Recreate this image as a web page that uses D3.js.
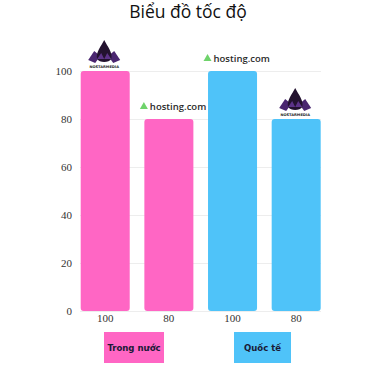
<!DOCTYPE html>
<html>
<head>
<meta charset="utf-8">
<script src="https://cdn.jsdelivr.net/npm/d3@7"></script>
<style>
  body { margin: 0; background: #fff; }
  svg { display: block; }
</style>
</head>
<body>
<svg id="chart" width="375" height="366"></svg>
<script>
// data
var title = "Biểu đồ tốc độ";
var barLabels = ["100", "80", "100", "80"];
var barValues = [100, 80, 100, 80];
var barGroups = ["Trong nước", "Trong nước", "Quốc tế", "Quốc tế"];
var barLogos = ["nostar", "hosting", "hosting", "nostar"];
var groups = ["Trong nước", "Quốc tế"];
var yTicks = [0, 20, 40, 60, 80, 100];

var colors = { "Trong nước": "#ff66c4", "Quốc tế": "#4fc3f9" };
var tickFont = "'Liberation Serif', 'DejaVu Serif', serif";

var svg = d3.select("#chart");

svg.append("text")
  .attr("x", 188).attr("y", 18)
  .attr("text-anchor", "middle")
  .style("font-family", "'Open Sans', sans-serif")
  .style("font-size", "17.5px")
  .attr("fill", "#111")
  .text(title);

var x = d3.scaleBand()
  .domain(d3.range(barValues.length))
  .range([80.7, 320.7])
  .paddingInner(0.23)
  .paddingOuter(0);

var y = d3.scaleLinear()
  .domain([0, 100])
  .range([311, 71]);

// gridlines
svg.append("g")
  .selectAll("line")
  .data(yTicks)
  .enter().append("line")
  .attr("x1", 80).attr("x2", 321)
  .attr("y1", function(d) { return y(d) + 0.5; })
  .attr("y2", function(d) { return y(d) + 0.5; })
  .attr("stroke", "#ededed")
  .attr("stroke-width", 1);

// y axis labels
var yAxis = d3.axisLeft(y).tickValues(yTicks).tickSize(0).tickPadding(0);
var ya = svg.append("g").attr("transform", "translate(72,0)").call(yAxis);
ya.attr("font-family", null);
ya.select(".domain").remove();
ya.selectAll("text")
  .style("font-family", tickFont)
  .style("font-size", "11px")
  .attr("fill", "#333");

// bars
svg.append("g")
  .selectAll("rect")
  .data(barValues)
  .enter().append("rect")
  .attr("x", function(d, i) { return x(i); })
  .attr("y", function(d) { return y(d); })
  .attr("width", x.bandwidth())
  .attr("height", function(d) { return y(0) - y(d); })
  .attr("rx", 3)
  .attr("fill", function(d, i) { return colors[barGroups[i]]; });

// x labels
svg.append("g")
  .selectAll("text")
  .data(barLabels)
  .enter().append("text")
  .attr("x", function(d, i) { return x(i) + x.bandwidth() / 2; })
  .attr("y", 322)
  .attr("text-anchor", "middle")
  .style("font-family", tickFont)
  .style("font-size", "11px")
  .attr("fill", "#333")
  .text(function(d) { return d; });

// logos
function drawNostar(g) {
  g.append("path")
    .attr("d", "M-16,8 L-10,-1 L-4,4 L-9,11 Z")
    .attr("fill", "#4a2670");
  g.append("path")
    .attr("d", "M16,8 L10,-1 L4,4 L9,11 Z")
    .attr("fill", "#4a2670");
  g.append("path")
    .attr("d", "M0,-12 C3,-6 9,1 7,7 C5,11 -5,11 -7,7 C-9,1 -3,-6 0,-12 Z")
    .attr("fill", "#23122f");
  g.append("path")
    .attr("d", "M-7,7 L-3,1 L0,7 L3,1 L7,7 Z")
    .attr("fill", "#5c3388");
  g.append("text")
    .attr("y", 16)
    .attr("text-anchor", "middle")
    .style("font-family", "'DejaVu Sans', sans-serif")
    .style("font-size", "3.6px")
    .style("font-weight", "bold")
    .attr("fill", "#222")
    .text("NOSTARMEDIA");
}

function drawHosting(g) {
  g.append("path")
    .attr("d", "M-27,3 L-23,-4 L-19,3 Z")
    .attr("fill", "#6fd36b");
  g.append("text")
    .attr("x", -17).attr("y", 3.5)
    .style("font-family", "'Open Sans', sans-serif")
    .style("font-size", "9.5px")
    .style("font-weight", "600")
    .attr("fill", "#2a2a2a")
    .text("hosting.com");
}

barValues.forEach(function(v, i) {
  var cx = x(i) + x.bandwidth() / 2;
  var g = svg.append("g");
  if (barLogos[i] === "nostar") {
    g.attr("transform", "translate(" + (cx - 1) + "," + (y(v) - 19) + ")");
    drawNostar(g);
  } else {
    g.attr("transform", "translate(" + (cx - 2) + "," + (y(v) - 13) + ")");
    drawHosting(g);
  }
});

// legend boxes under each group
var legendPos = { "Trong nước": [104, 60], "Quốc tế": [234, 57] };
var lg = svg.append("g")
  .selectAll("g")
  .data(groups)
  .enter().append("g")
  .attr("transform", function(d) { return "translate(" + legendPos[d][0] + ",332)"; });

lg.append("rect")
  .attr("width", function(d) { return legendPos[d][1]; })
  .attr("height", 31)
  .attr("fill", function(d) { return colors[d]; });

lg.append("text")
  .attr("x", function(d) { return legendPos[d][1] / 2; })
  .attr("y", 19)
  .attr("text-anchor", "middle")
  .style("font-family", "'Liberation Sans Narrow', 'DejaVu Sans Condensed', sans-serif")
  .style("font-size", "9.5px")
  .style("font-weight", "bold")
  .attr("fill", "#1a1a36")
  .text(function(d) { return d; });
</script>
</body>
</html>
